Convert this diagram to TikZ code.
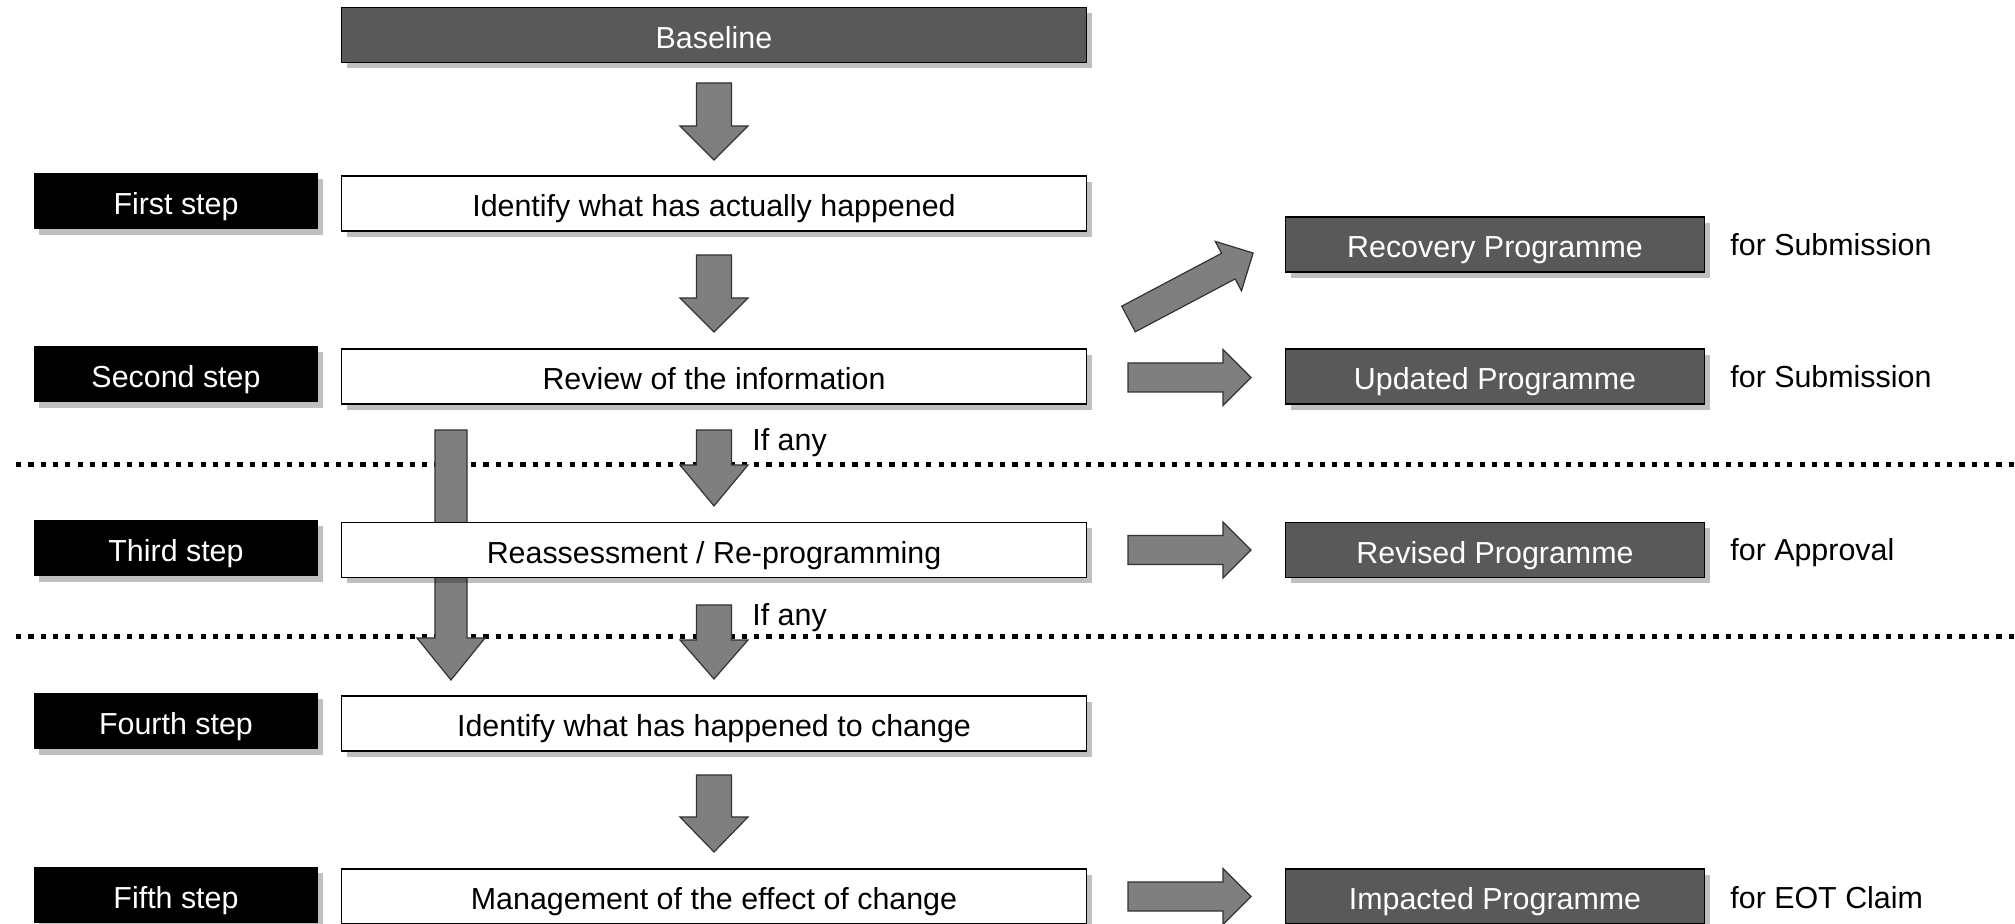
\documentclass[tikz,border=0pt]{standalone}
\usepackage{fontspec}
\setmainfont{Liberation Sans}
\usetikzlibrary{shadows}
\definecolor{boxgray}{HTML}{595959}
\definecolor{arrowgray}{HTML}{7F7F7F}
\newcommand\downblock[6]{% cx, top, headstart, tip, shafthalf, headhalf
  \draw[blockarrow] (#1-#5,#2) -- (#1+#5,#2) -- (#1+#5,#3) -- (#1+#6,#3) -- (#1,#4)
    -- (#1-#6,#3) -- (#1-#5,#3) -- cycle;}
\newcommand\rightblock[4]{% cy, x0, headstart, tip
  \draw[blockarrow] (#2,#1-14.5) -- (#3,#1-14.5) -- (#3,#1-28) -- (#4,#1)
    -- (#3,#1+28) -- (#3,#1+14.5) -- (#2,#1+14.5) -- cycle;}
\tikzset{
  shad/.style={drop shadow={shadow xshift=2.5pt, shadow yshift=-3pt, opacity=0.25, fill=black}},
  txt/.style={font=\fontsize{15.2}{18}\selectfont},
  boxtxt/.style={txt, text height=13.4pt, text depth=0pt},
  mainbox/.style={boxtxt, draw=black, line width=0.8pt, fill=white, text=black,
    minimum width=372.5pt, minimum height=27.5pt, inner sep=0pt, shad},
  headbox/.style={mainbox, fill=boxgray, text=white},
  stepbox/.style={boxtxt, fill=black, text=white, minimum width=142pt,
    minimum height=28pt, inner sep=0pt, shad},
  outbox/.style={boxtxt, draw=black, line width=0.8pt, fill=boxgray, text=white,
    minimum width=209.5pt, minimum height=27.5pt, inner sep=0pt, shad},
  notetext/.style={txt, anchor=west, inner sep=0pt, text height=11pt, text depth=0pt},
  ifany/.style={txt, anchor=base west, inner sep=0pt},
  blockarrow/.style={fill=arrowgray, draw=black!80, line width=0.6pt, line join=miter},
  sepline/.style={line width=2.5pt, dash pattern=on 2.6pt off 3.55pt}
}
\begin{document}
\begin{tikzpicture}[x=0.5pt, y=-0.5pt]
\useasboundingbox (0,0) rectangle (2015,924);

% separator lines
\coordinate (s1a) at (16,465);
\coordinate (s1b) at (2015,465);
\coordinate (s2a) at (16,637);
\coordinate (s2b) at (2015,637);
\draw[sepline] (s1a) -- (s1b);
\draw[sepline] (s2a) -- (s2b);

% long left arrow (behind boxes)
\downblock{451}{430}{638}{680}{16}{34}

% central arrows
\downblock{714}{83}{126}{160}{17.5}{34}
\downblock{714}{255}{298}{332}{17.5}{34}
\downblock{714}{430}{465}{506}{17.5}{34}
\downblock{714}{605}{640}{679}{17.5}{34}
\downblock{714}{775}{817}{852}{17.5}{34}

% right arrows
\begin{scope}[shift={(1128.5,319)}, rotate=27.9]
  \rightblock{0}{0}{113}{141}
\end{scope}
\rightblock{377.5}{1128}{1223}{1251}
\rightblock{550}{1128}{1223}{1251}
\rightblock{896.5}{1128}{1223}{1251}

% main column
\node[headbox] (base) at (714,35) {Baseline};
\node[mainbox] (b1) at (714,203.5) {Identify what has actually happened};
\node[mainbox] (b2) at (714,376.5) {Review of the information};
\node[mainbox] (b3) at (714,550) {Reassessment / Re-programming};
\node[mainbox] (b4) at (714,723.5) {Identify what has happened to change};
\node[mainbox] (b5) at (714,896.5) {Management of the effect of change};

% step labels
\node[stepbox] (st1) at (176,201) {First step};
\node[stepbox] (st2) at (176,374) {Second step};
\node[stepbox] (st3) at (176,548) {Third step};
\node[stepbox] (st4) at (176,721) {Fourth step};
\node[stepbox] (st5) at (176,895) {Fifth step};

% outputs
\node[outbox] (o1) at (1495,244.5) {Recovery Programme};
\node[outbox] (o2) at (1495,376.5) {Updated Programme};
\node[outbox] (o3) at (1495,550) {Revised Programme};
\node[outbox] (o4) at (1495,896.5) {Impacted Programme};

\node[notetext] (n1) at (1730,244.5) {for Submission};
\node[notetext] (n2) at (1730,376.5) {for Submission};
\node[notetext] (n3) at (1730,550) {for Approval};
\node[notetext] (n4) at (1730,897.5) {for EOT Claim};

\node[ifany] (if1) at (752,451) {If any};
\node[ifany] (if2) at (752,626) {If any};
\end{tikzpicture}
\end{document}
